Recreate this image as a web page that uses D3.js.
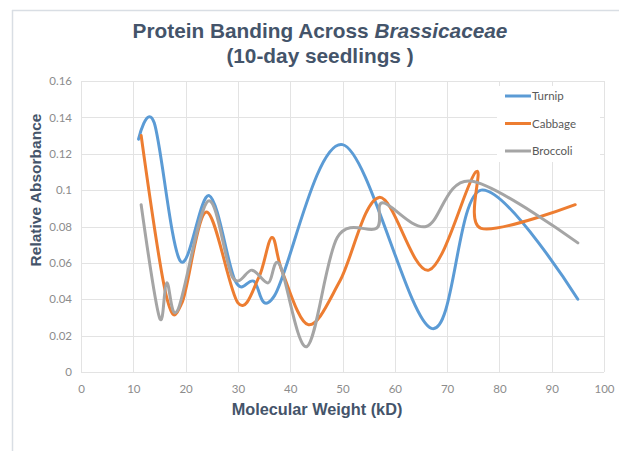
<!DOCTYPE html>
<html>
<head>
<meta charset="utf-8">
<script src="https://cdn.jsdelivr.net/npm/d3@7"></script>
<style>
  body { margin: 0; background: #fff; }
  svg { display: block; }
</style>
</head>
<body>
<svg id="chart" width="619" height="451"></svg>
<script>
// molecular weight (kD) and relative absorbance
var turnipMW  = [11, 14, 19, 24.5, 29.5, 33, 37, 50, 67, 76.5, 95];
var turnipAbs = [0.128, 0.137, 0.061, 0.097, 0.05, 0.05, 0.042, 0.125, 0.024, 0.1, 0.04];

var cabbageMW  = [11.5, 16.3, 19.3, 24, 30, 34, 36.5, 38.5, 43.5, 49.5, 57, 66.5, 75.5, 76.5, 94.5];
var cabbageAbs = [0.13, 0.042, 0.038, 0.088, 0.038, 0.052, 0.074, 0.055, 0.026, 0.05, 0.096, 0.056, 0.11, 0.079, 0.092];

var broccoliMW  = [11.5, 15, 16.4, 18.5, 24.3, 29, 32.7, 35.8, 38, 43.2, 49, 56.5, 57.7, 66, 74.5, 95];
var broccoliAbs = [0.092, 0.03, 0.049, 0.034, 0.094, 0.052, 0.056, 0.049, 0.059, 0.014, 0.074, 0.079, 0.093, 0.08, 0.105, 0.071];

var seriesNames = ["Turnip", "Cabbage", "Broccoli"];
var seriesColors = ["#5B9BD5", "#ED7D31", "#A5A5A5"];
var xTicks = [0, 10, 20, 30, 40, 50, 60, 70, 80, 90, 100];
var yTicks = [0, 0.02, 0.04, 0.06, 0.08, 0.1, 0.12, 0.14, 0.16];

var series = [
  turnipMW.map(function (d, i) { return [d, turnipAbs[i]]; }),
  cabbageMW.map(function (d, i) { return [d, cabbageAbs[i]]; }),
  broccoliMW.map(function (d, i) { return [d, broccoliAbs[i]]; })
];

var svg = d3.select("#chart");

// outer frame (top + left edges only visible)
svg.append("line").attr("x1", 12).attr("x2", 619).attr("y1", 10.5).attr("y2", 10.5)
  .attr("stroke", "#d9dee4").attr("stroke-width", 1.5);
svg.append("line").attr("x1", 12.5).attr("x2", 12.5).attr("y1", 10).attr("y2", 451)
  .attr("stroke", "#d9dee4").attr("stroke-width", 1.5);

var x = d3.scaleLinear().domain([0, 100]).range([81, 604]);
var y = d3.scaleLinear().domain([0, 0.16]).range([372, 81]);

// gridlines
svg.append("g").selectAll("line").data(yTicks).join("line")
  .attr("x1", x(0)).attr("x2", x(100))
  .attr("y1", function (d) { return Math.round(y(d)) + 0.5; })
  .attr("y2", function (d) { return Math.round(y(d)) + 0.5; })
  .attr("stroke", "#e3e3e3");
svg.append("g").selectAll("line").data(xTicks).join("line")
  .attr("x1", function (d) { return Math.round(x(d)) + 0.5; })
  .attr("x2", function (d) { return Math.round(x(d)) + 0.5; })
  .attr("y1", y(0.16)).attr("y2", y(0))
  .attr("stroke", "#e3e3e3");

// axes labels
var yAxis = svg.append("g").attr("transform", "translate(" + (x(0) - 6) + ",0)")
  .call(d3.axisLeft(y).tickValues(yTicks).tickSize(0).tickFormat(function (d) { return String(+d.toFixed(2)); }));
var xAxis = svg.append("g").attr("transform", "translate(0," + (y(0) + 10) + ")")
  .call(d3.axisBottom(x).tickValues(xTicks).tickSize(0));
[yAxis, xAxis].forEach(function (a) {
  a.select(".domain").remove();
  a.selectAll("text").attr("fill", "#8c8c8c").style("font-family", "Lato, 'Open Sans', sans-serif").style("font-size", "11.5px");
});

// lines
var line = d3.line()
  .x(function (d) { return x(d[0]); })
  .y(function (d) { return y(d[1]); })
  .curve(d3.curveCardinal.tension(0));

svg.append("g").selectAll("path").data(series).join("path")
  .attr("d", line)
  .attr("fill", "none")
  .attr("stroke", function (d, i) { return seriesColors[i]; })
  .attr("stroke-width", 3)
  .attr("stroke-linecap", "round")
  .attr("stroke-linejoin", "round");

// legend
svg.append("rect").attr("x", 497).attr("y", 86).attr("width", 103).attr("height", 76).attr("fill", "#fff");
var lg = svg.append("g").selectAll("g").data(seriesNames).join("g")
  .attr("transform", function (d, i) { return "translate(505," + (96 + i * 27.5) + ")"; });
lg.append("line").attr("x1", 0).attr("x2", 26).attr("stroke", function (d, i) { return seriesColors[i]; })
  .attr("stroke-width", 3);
lg.append("text").attr("x", 27).attr("dy", "0.35em").text(function (d) { return d; })
  .attr("fill", "#595959").style("font-family", "Lato, 'Open Sans', sans-serif").style("font-size", "11.5px");

// titles
var title = svg.append("text").attr("text-anchor", "middle").attr("fill", "#44546A")
  .style("font-family", "'Liberation Sans', Arial, sans-serif").style("font-weight", "bold").style("font-size", "20.8px");
title.append("tspan").attr("x", 320).attr("y", 38).text("Protein Banding Across ");
title.append("tspan").style("font-style", "italic").text("Brassicaceae");
title.append("tspan").attr("x", 320).attr("y", 63).text("(10-day seedlings )");

svg.append("text").attr("text-anchor", "middle").attr("fill", "#44546A")
  .attr("transform", "translate(41,190) rotate(-90)")
  .style("font-family", "'Liberation Sans', Arial, sans-serif").style("font-weight", "bold").style("font-size", "15.5px")
  .text("Relative Absorbance");
svg.append("text").attr("text-anchor", "middle").attr("fill", "#44546A")
  .attr("x", 317).attr("y", 415)
  .style("font-family", "'Liberation Sans', Arial, sans-serif").style("font-weight", "bold").style("font-size", "16.3px")
  .text("Molecular Weight (kD)");
</script>
</body>
</html>
